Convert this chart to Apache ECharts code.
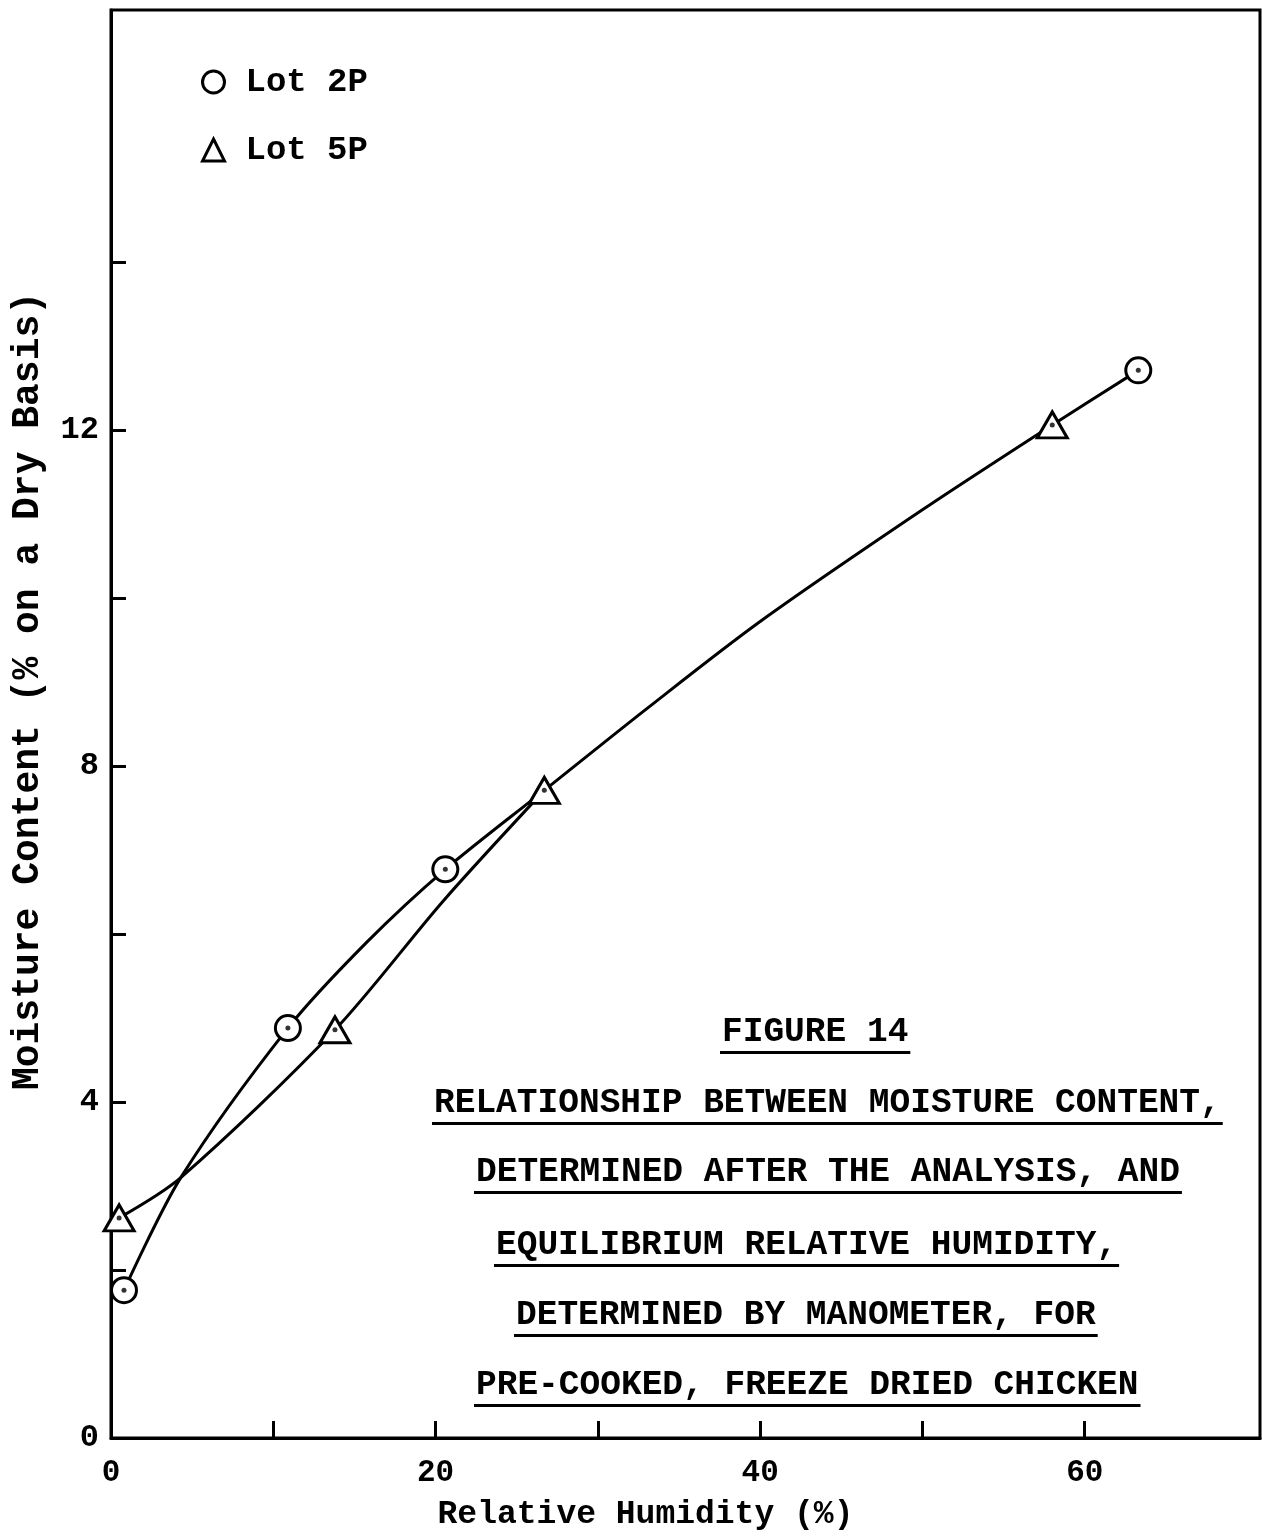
<!DOCTYPE html>
<html><head><meta charset="utf-8">
<script src="https://cdn.jsdelivr.net/npm/echarts@6/dist/echarts.min.js"></script>
<style>html,body{margin:0;padding:0;background:#fff}#c{width:1262px;height:1537px}</style>
</head><body><div id="c"></div><script>
// ---------- data ----------
const xTickValues = [0, 10, 20, 30, 40, 50, 60];
const xLabelValues = [0, 20, 40, 60];
const yTickValues = [0, 2, 4, 6, 8, 10, 12, 14];
const yLabelValues = [0, 4, 8, 12];
const seriesNames = ['Lot 2P', 'Lot 5P'];
// measured points (markers)
const rhLot2P = [0.8, 10.9, 20.6, 63.3];
const mcLot2P = [1.76, 4.88, 6.77, 12.71];
const rhLot5P = [0.5, 13.8, 26.7, 58.0];
const mcLot5P = [2.62, 4.86, 7.71, 12.06];
// hand-drawn curves
const curveRhA = [0.8, 4.3, 10.9, 15.75, 20.6, 26.7, 33, 40, 50, 58.0, 63.3];
const curveMcA = [1.76, 3.1, 4.88, 5.9, 6.77, 7.71, 8.68, 9.72, 11.05, 12.06, 12.71];
const curveRhB = [0.5, 4.3, 13.8, 20.5, 26.7];
const curveMcB = [2.62, 3.1, 4.86, 6.4, 7.71];
const xAxisTitle = 'Relative Humidity (%)';
const yAxisTitle = 'Moisture Content (% on a Dry Basis)';
const captionLines = [
  'FIGURE 14',
  'RELATIONSHIP BETWEEN MOISTURE CONTENT,',
  'DETERMINED AFTER THE ANALYSIS, AND',
  'EQUILIBRIUM RELATIVE HUMIDITY,',
  'DETERMINED BY MANOMETER, FOR',
  'PRE-COOKED, FREEZE DRIED CHICKEN'
];

// ---------- build ----------
const FONT = '"Liberation Mono", "Courier New", monospace';
const pts = (xs, ys) => xs.map((x, i) => [x, ys[i]]);
const p2 = pts(rhLot2P, mcLot2P);
const p5 = pts(rhLot5P, mcLot5P);
const curveA = pts(curveRhA, curveMcA);
const curveB = pts(curveRhB, curveMcB);

const capLayout = [
  {x: 722, y: 1032}, {x: 434, y: 1103}, {x: 476, y: 1172},
  {x: 496, y: 1245}, {x: 516, y: 1315}, {x: 476, y: 1385}
];
const capSize = 34.5;
const mctx = document.createElement('canvas').getContext('2d');
mctx.font = 'bold ' + capSize + 'px "Liberation Mono"';
const graphic = [];
captionLines.forEach((t, i) => {
  const L = capLayout[i];
  const w = mctx.measureText(t).width;
  graphic.push({type: 'text', x: L.x, y: L.y, z: 10,
    style: {text: t, fontFamily: FONT, fontSize: capSize, fontWeight: 'bold', fill: '#000',
            align: 'left', verticalAlign: 'middle'}});
  graphic.push({type: 'rect', z: 10, shape: {x: L.x - 2, y: L.y + 19, width: w + 4, height: 3},
    style: {fill: '#000'}});
});

const lineStyle = {color: '#000', width: 3};
const option = {
  animation: false,
  backgroundColor: '#fff',
  grid: {left: 111, top: 10, right: 2, bottom: 99, show: true, borderColor: '#000', borderWidth: 3},
  legend: {
    orient: 'vertical', left: 196, top: 60, itemWidth: 22, itemHeight: 22, itemGap: 34,
    data: seriesNames,
    textStyle: {fontFamily: FONT, fontSize: 34, fontWeight: 'bold', color: '#000', padding: [0, 0, 0, 16]},
    itemStyle: {color: '#fff', borderColor: '#000', borderWidth: 3}
  },
  xAxis: {
    type: 'value', min: 0, max: 70.8, interval: 10,
    name: xAxisTitle, nameLocation: 'middle', nameGap: 60,
    nameTextStyle: {fontFamily: FONT, fontSize: 33, fontWeight: 'bold', color: '#000', padding: [0, 80, 0, 0]},
    axisLine: {lineStyle: {color: '#000', width: 3}},
    axisTick: {inside: true, length: 17, lineStyle: {color: '#000', width: 3}, customValues: xTickValues},
    axisLabel: {customValues: xLabelValues, margin: 20, fontFamily: FONT, fontSize: 31, fontWeight: 'bold', color: '#000'},
    splitLine: {show: false}
  },
  yAxis: {
    type: 'value', min: 0, max: 17, interval: 2,
    name: yAxisTitle, nameLocation: 'middle', nameGap: 64,
    nameTextStyle: {fontFamily: FONT, fontSize: 38, fontWeight: 'bold', color: '#000', padding: [0, 0, 0, 66]},
    axisLine: {lineStyle: {color: '#000', width: 3}},
    axisTick: {inside: true, length: 15, lineStyle: {color: '#000', width: 3}, customValues: yTickValues},
    axisLabel: {customValues: yLabelValues, margin: 12, fontFamily: FONT, fontSize: 32, fontWeight: 'bold', color: '#000'},
    splitLine: {show: false}
  },
  series: [
    {type: 'line', data: curveA, smooth: 0.3, symbol: 'none', lineStyle: lineStyle, silent: true, z: 2},
    {type: 'line', data: curveB, smooth: 0.3, symbol: 'none', lineStyle: lineStyle, silent: true, z: 2},
    {name: seriesNames[0], type: 'scatter', data: p2, symbol: 'circle', symbolSize: 25,
     itemStyle: {color: '#fff', borderColor: '#000', borderWidth: 3, opacity: 1}, z: 5},
    {name: seriesNames[1], type: 'scatter', data: p5, symbol: 'triangle', symbolSize: [30, 26],
     itemStyle: {color: '#fff', borderColor: '#000', borderWidth: 3, opacity: 1}, z: 5},
    {type: 'scatter', data: p2, symbol: 'circle', symbolSize: 5, itemStyle: {color: '#000'}, silent: true, z: 6},
    {type: 'scatter', data: p5, symbol: 'circle', symbolSize: 5, itemStyle: {color: '#000'}, silent: true, z: 6}
  ],
  graphic: graphic
};
const chart = echarts.init(document.getElementById('c'), null, {renderer: 'canvas'});
chart.setOption(option);
</script></body></html>
